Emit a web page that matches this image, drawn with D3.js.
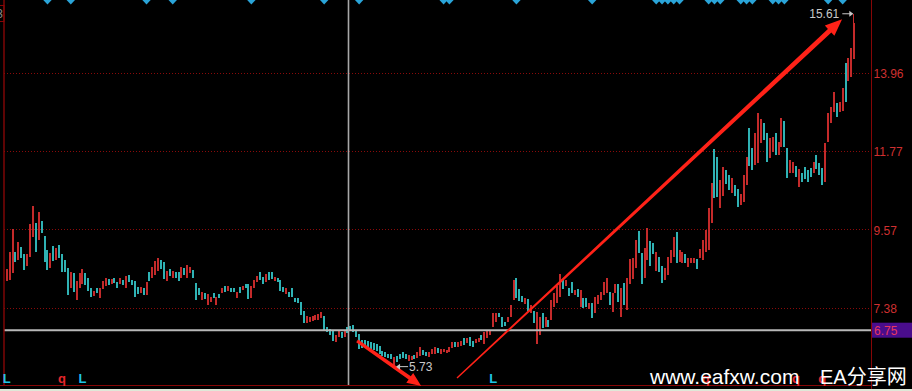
<!DOCTYPE html>
<html><head><meta charset="utf-8">
<script src="https://cdn.jsdelivr.net/npm/d3@7"></script>
<style>html,body{margin:0;padding:0;background:#000;overflow:hidden}</style>
</head><body><svg id="c" width="912" height="391"></svg>
<script>
const opens = [8.13,8.16,8.35,8.94,8.71,9.08,8.88,8.55,8.80,9.36,
9.75,9.27,9.80,9.38,8.99,8.49,9.11,8.71,9.13,8.88,
8.71,8.49,7.93,8.35,7.60,7.93,8.04,8.35,8.21,7.93,
7.71,7.93,7.65,7.90,7.99,8.18,8.04,8.21,8.10,8.04,
8.16,7.93,8.29,8.16,8.13,7.96,7.79,7.93,7.74,8.38,
8.21,8.29,8.41,8.71,8.66,8.13,8.46,8.21,8.38,8.38,
8.21,8.49,8.21,8.35,8.43,8.07,7.93,7.60,7.79,7.46,
7.54,7.79,7.46,
7.76,7.78,7.99,7.85,7.94,7.92,7.65,7.97,7.88,8.03,
8.03,7.66,7.92,8.11,8.37,8.24,8.11,8.39,8.39,8.13,
8.22,8.16,7.97,7.76,7.81,7.92,7.66,7.66,7.55,7.29,
6.95,6.99,7.01,7.04,7.04,7.10,7.15,6.85,6.79,6.73,
6.41,6.57,6.71,6.57,6.85,6.87,6.90,6.76,6.64,6.48,
6.48,6.45,6.42,6.39,6.36,6.32,6.17,6.13,6.08,6.08,
5.78,6.03,6.09,6.14,6.08,5.89,5.92,6.06,5.97,6.04,
6.20,6.15,6.01,6.08,6.08,6.25,6.08,6.14,6.11,6.14,
6.25,6.42,6.29,6.32,6.54,6.39,6.57,6.45,6.39,6.43,
6.62,6.36,6.53,6.62,
6.85,6.99,7.23,7.13,6.99,6.99,7.13,7.60,8.22,7.90,
7.71,7.49,7.62,7.23,7.29,6.37,6.62,7.23,6.85,7.04,
7.04,7.41,7.52,7.69,8.16,7.99,7.92,8.11,7.74,7.90,
7.41,7.64,7.64,7.34,7.50,7.23,7.49,7.60,7.74,7.78,
7.83,7.27,7.78,8.04,7.11,8.06,7.32,8.04,8.18,8.48,
9.53,8.90,8.20,8.71,9.25,9.20,8.41,8.79,8.55,8.16,
8.29,8.62,8.79,9.51,8.67,8.64,8.88,8.51,8.62,8.64,
8.73,8.76,8.71,8.94,
8.99,9.75,11.81,11.59,10.17,10.50,11.23,11.09,10.59,10.81,
10.70,10.25,10.33,10.81,12.40,11.84,11.37,11.42,11.98,12.54,
12.26,11.56,11.73,12.26,11.65,11.87,12.62,11.84,11.14,11.14,
11.34,10.75,11.14,11.31,11.23,11.28,11.14,11.65,11.42,11.28,
10.89,12.01,12.54,12.85,13.10,12.85,12.90,14.22,13.74,13.83,
14.33];

const highs = [8.46,8.94,9.58,8.94,9.22,9.08,8.88,8.88,9.72,10.22,
9.75,10.05,9.80,9.38,8.99,8.91,9.11,9.05,9.13,8.88,
8.71,8.49,8.38,8.35,8.13,8.35,8.46,8.35,8.21,7.93,
7.85,7.93,7.93,8.13,8.21,8.18,8.18,8.21,8.10,8.21,
8.16,8.27,8.29,8.16,8.13,7.96,7.96,7.93,8.10,8.38,
8.52,8.69,8.77,8.71,8.66,8.41,8.46,8.41,8.38,8.38,
8.52,8.49,8.57,8.52,8.43,8.07,7.93,7.82,7.79,7.77,
7.68,7.79,7.68,
7.76,7.94,7.99,7.99,7.94,7.92,7.83,7.97,8.00,8.03,
8.03,8.00,8.16,8.28,8.37,8.24,8.31,8.39,8.39,8.24,
8.22,8.16,7.97,7.92,7.81,7.92,7.66,7.66,7.55,7.29,
7.16,7.13,7.14,7.18,7.20,7.25,7.15,6.85,6.79,6.73,
6.62,6.73,6.71,6.73,6.85,6.87,6.90,6.76,6.64,6.48,
6.48,6.45,6.42,6.39,6.36,6.32,6.17,6.13,6.08,6.08,
6.01,6.03,6.09,6.14,6.08,6.06,6.04,6.06,6.14,6.27,
6.20,6.15,6.14,6.22,6.27,6.25,6.23,6.23,6.20,6.29,
6.42,6.42,6.43,6.45,6.54,6.54,6.57,6.45,6.51,6.54,
6.62,6.71,6.73,6.76,
7.24,7.23,7.23,7.13,6.99,7.13,7.46,8.16,8.22,7.90,
7.71,7.64,7.62,7.46,7.29,7.27,7.11,7.23,7.13,7.04,
7.60,7.78,7.99,8.32,8.16,8.16,7.92,8.11,7.88,7.90,
7.88,7.64,7.64,7.50,7.50,7.69,7.74,7.83,8.11,8.20,
7.83,7.78,8.04,8.04,7.92,8.06,8.20,8.73,8.76,9.27,
9.53,8.90,9.06,9.60,9.25,9.20,8.94,8.79,8.55,8.48,
8.79,8.99,9.37,9.51,8.99,8.94,8.88,8.76,8.76,8.76,
8.73,9.01,9.27,9.55,
10.16,10.87,11.81,11.59,10.95,11.31,11.23,11.09,11.00,10.81,
10.70,10.56,11.09,11.59,12.40,11.84,12.26,12.82,12.65,12.54,
12.26,12.12,12.15,12.26,12.01,12.68,12.62,11.84,11.51,11.45,
11.34,11.26,11.14,11.31,11.23,11.28,11.45,11.65,11.42,11.28,
11.98,12.82,12.99,13.41,13.10,13.13,13.52,14.22,14.38,14.64,
15.61];

const lows = [8.13,8.16,8.35,8.66,8.71,8.77,8.43,8.55,8.80,9.36,
8.94,9.27,9.47,8.66,8.43,8.49,8.69,8.71,8.77,8.38,
8.38,7.74,7.93,7.82,7.60,7.93,8.04,8.02,7.85,7.68,
7.71,7.79,7.65,7.90,7.99,8.02,8.04,8.07,7.93,8.04,
8.02,7.93,8.10,8.02,7.68,7.77,7.79,7.74,7.74,8.13,
8.21,8.29,8.41,8.46,8.18,8.13,8.27,8.21,8.21,8.13,
8.21,8.29,8.21,8.35,8.21,7.60,7.74,7.60,7.63,7.46,
7.54,7.65,7.46,
7.65,7.78,7.83,7.85,7.81,7.81,7.65,7.78,7.88,7.92,
7.63,7.66,7.92,8.11,8.16,8.03,8.11,8.16,8.18,8.13,
8.11,7.85,7.81,7.76,7.69,7.69,7.53,7.50,7.18,6.95,
6.95,6.99,7.01,7.04,7.04,7.10,6.73,6.70,6.62,6.45,
6.41,6.57,6.54,6.57,6.67,6.73,6.69,6.57,6.23,6.25,
6.29,6.25,6.23,6.20,6.17,6.08,6.04,6.01,5.97,5.95,
5.73,5.87,5.95,5.97,5.95,5.89,5.92,5.95,5.97,6.04,
6.06,6.04,6.01,6.08,6.08,6.11,6.08,6.14,6.11,6.14,
6.25,6.29,6.29,6.32,6.34,6.39,6.32,6.27,6.39,6.43,
6.48,6.36,6.53,6.62,
6.85,6.99,7.11,6.85,6.88,6.99,7.13,7.60,7.64,7.58,
7.55,7.49,7.30,7.23,6.95,6.37,6.62,6.81,6.85,6.83,
7.04,7.41,7.52,7.69,7.90,7.99,7.71,7.80,7.74,7.69,
7.41,7.36,7.39,7.34,7.09,7.23,7.49,7.60,7.74,7.78,
7.46,7.27,7.78,7.55,7.11,7.46,7.32,8.04,8.18,8.48,
8.90,8.04,8.20,8.71,8.55,8.88,8.41,8.39,8.06,8.16,
8.29,8.62,8.79,8.64,8.67,8.64,8.62,8.51,8.62,8.64,
8.46,8.76,8.71,8.94,
8.99,9.75,10.45,10.47,10.17,10.50,10.84,10.67,10.59,10.50,
10.19,10.25,10.33,10.81,11.34,11.23,11.37,11.42,11.98,12.07,
11.45,11.56,11.73,11.65,11.65,11.87,11.87,11.00,11.14,11.14,
11.03,10.75,10.89,10.98,10.89,11.03,11.14,11.26,11.09,10.81,
10.89,12.01,12.54,12.85,12.71,12.85,12.90,13.13,13.74,13.83,
14.33];

const closes = [8.46,8.94,9.58,8.66,9.22,8.77,8.43,8.88,9.72,10.22,
8.94,10.05,9.47,8.66,8.43,8.91,8.69,9.05,8.77,8.38,
8.38,7.74,8.38,7.82,8.13,8.35,8.46,8.02,7.85,7.68,
7.85,7.79,7.93,8.13,8.21,8.02,8.18,8.07,7.93,8.21,
8.02,8.27,8.10,8.02,7.68,7.77,7.96,7.74,8.10,8.13,
8.52,8.69,8.77,8.46,8.18,8.41,8.27,8.41,8.21,8.13,
8.52,8.29,8.57,8.52,8.21,7.60,7.74,7.82,7.63,7.77,
7.68,7.65,7.68,
7.65,7.94,7.83,7.99,7.81,7.81,7.83,7.78,8.00,7.92,
7.63,8.00,8.16,8.28,8.16,8.03,8.31,8.16,8.18,8.24,
8.11,7.85,7.81,7.92,7.69,7.69,7.53,7.50,7.18,6.95,
7.16,7.13,7.14,7.18,7.20,7.25,6.73,6.70,6.62,6.45,
6.62,6.73,6.54,6.73,6.67,6.73,6.69,6.57,6.23,6.25,
6.29,6.25,6.23,6.20,6.17,6.08,6.04,6.01,5.97,5.95,
6.01,5.87,5.95,5.97,5.95,6.06,6.04,5.95,6.14,6.27,
6.06,6.04,6.14,6.22,6.27,6.11,6.23,6.23,6.20,6.29,
6.42,6.29,6.43,6.45,6.34,6.54,6.32,6.27,6.51,6.54,
6.48,6.71,6.73,6.76,
7.24,7.23,7.11,6.85,6.88,7.13,7.46,8.16,7.64,7.58,
7.55,7.64,7.30,7.46,6.95,7.27,7.11,6.81,7.13,6.83,
7.60,7.78,7.99,8.32,7.90,8.16,7.71,7.80,7.88,7.69,
7.88,7.36,7.39,7.50,7.09,7.69,7.74,7.83,8.11,8.20,
7.46,7.78,8.04,7.55,7.92,7.46,8.20,8.73,8.76,9.27,
8.90,8.04,9.06,9.60,8.55,8.88,8.94,8.39,8.06,8.48,
8.79,8.99,9.37,8.64,8.99,8.94,8.62,8.76,8.76,8.76,
8.46,9.01,9.27,9.55,
10.16,10.87,10.45,10.47,10.95,11.31,10.84,10.67,11.00,10.50,
10.19,10.56,11.09,11.59,11.34,11.23,12.26,12.82,12.65,12.07,
11.45,12.12,12.15,11.65,12.01,12.68,11.87,11.00,11.51,11.45,
11.03,11.26,10.89,10.98,10.89,11.03,11.45,11.26,11.09,10.81,
11.98,12.82,12.99,13.41,12.71,13.13,13.52,13.13,14.38,14.64,
15.35];

const priceTicks = [7.38, 9.57, 11.77, 13.96, 16.15];
const lastPrice = 6.75;
const maxPriceLabel = 15.61;
const minPriceLabel = 5.73;
const crossIndex = 118;
const signalIdx = [14,22,48,57,84,109,121,150,152,175,201,223,225,227,229,231,241,243,245,252,254,256,263,265,267,282,287];
const markerIdx = [0,19,26,167,240,271,280];
const markerText = ["L","q","L","L","q","q","q"];
const arrowFrom = [[154.6,5.41],[120.3,6.45]];
const arrowTo = [[286.8,15.46],[142.3,5.19]];
const watermarkText = ["www.eafxw.com","EA分享网"];

const W = 912, H = 391;
const FONT = "'Liberation Sans', Arial, sans-serif";
const svg = d3.select("#c");
svg.append("rect").attr("width", W).attr("height", H).attr("fill", "#000");

const N = opens.length;
const x = d3.scaleLinear().domain([0, N - 1]).range([6.7, 854.3]);
const y = d3.scaleLinear().domain([7.38, 13.96]).range([307.7, 72.7]);
const leftX = 4, rightX = 871.5, bottomY = 385.5;
const AX = "#860606";

// gridlines
svg.append("g").selectAll("line").data(priceTicks).join("line")
  .attr("x1", leftX).attr("x2", rightX)
  .attr("y1", d => Math.round(y(d)) + 0.5).attr("y2", d => Math.round(y(d)) + 0.5)
  .attr("stroke", "#8a0a0a").attr("stroke-dasharray", "1,2").attr("stroke-width", 1);

// candles
const cg = svg.append("g").attr("shape-rendering", "crispEdges");
const idx = d3.range(N);
const col = i => closes[i] >= opens[i] ? "#c42a2a" : "#2fb2b4";
cg.selectAll("line").data(idx).join("line")
  .attr("x1", i => Math.round(x(i)) - 0.5).attr("x2", i => Math.round(x(i)) - 0.5)
  .attr("y1", i => y(highs[i])).attr("y2", i => y(lows[i]))
  .attr("stroke", col).attr("stroke-width", 1);
cg.selectAll("rect").data(idx).join("rect")
  .attr("x", i => Math.round(x(i)) - 1).attr("width", 2)
  .attr("y", i => y(Math.max(opens[i], closes[i])))
  .attr("height", i => Math.max(1, Math.abs(y(opens[i]) - y(closes[i]))))
  .attr("fill", col);

// last price line
svg.append("line").attr("x1", leftX).attr("x2", rightX)
  .attr("y1", y(lastPrice)).attr("y2", y(lastPrice))
  .attr("stroke", "#b8b8b8").attr("stroke-width", 2);

// crosshair
svg.append("line").attr("x1", Math.round(x(crossIndex)) - 1.5).attr("x2", Math.round(x(crossIndex)) - 1.5)
  .attr("y1", 0).attr("y2", bottomY).attr("stroke", "#a8a8a8").attr("stroke-width", 1.6);

// frame lines
svg.append("line").attr("x1", leftX).attr("x2", leftX).attr("y1", 0).attr("y2", bottomY).attr("stroke", AX).attr("stroke-width", 1.4);
svg.append("line").attr("x1", rightX).attr("x2", rightX).attr("y1", 0).attr("y2", H).attr("stroke", AX).attr("stroke-width", 1);
svg.append("line").attr("x1", 0).attr("x2", rightX).attr("y1", bottomY).attr("y2", bottomY).attr("stroke", AX).attr("stroke-width", 1.2);
svg.append("rect").attr("x", -20).attr("y", 5.5).attr("width", 24).attr("height", 16).attr("fill", "none").attr("stroke", AX);
svg.append("text").attr("x", 3).attr("y", 18).attr("text-anchor", "end").attr("fill", "#888").attr("font-family", FONT).attr("font-size", 12).text("13");

// right axis labels
const axis = d3.axisRight(y).tickValues(priceTicks).tickSize(0).tickPadding(2).tickFormat(d3.format(".2f"));
const ag = svg.append("g").attr("transform", `translate(${rightX},0)`).call(axis);
ag.select(".domain").remove();
ag.selectAll("text").attr("fill", "#cf3030").attr("font-family", FONT).attr("font-size", 12).attr("dy", "0.42em");

// last price box
svg.append("rect").attr("x", rightX + 0.5).attr("y", y(lastPrice) - 7.5).attr("width", 41).attr("height", 15).attr("fill", "#4a0d8c");
svg.append("text").attr("x", rightX + 2.5).attr("y", y(lastPrice) + 5).attr("fill", "#e8385e")
  .attr("font-family", FONT).attr("font-size", 12).text(lastPrice.toFixed(2));

// signal diamonds at top
svg.append("g").selectAll("path").data(signalIdx).join("path")
  .attr("d", i => { const cx = x(i); return `M${cx-4.2},0L${cx},4.6L${cx+4.2},0L${cx},-4.6Z`; })
  .attr("fill", "#2aa4d8");

// bottom markers
svg.append("g").selectAll("text").data(markerIdx).join("text")
  .attr("x", i => x(i)).attr("y", 383).attr("text-anchor", "middle")
  .attr("font-family", FONT).attr("font-weight", "bold").attr("font-size", 13)
  .attr("fill", (d, k) => markerText[k] === "L" ? "#1ec4e6" : "#e6262a")
  .text((d, k) => markerText[k]);

// red annotation arrows
function arrowPath(x0, y0, x1, y1, w0, w1, hl, hw) {
  const dx = x1 - x0, dy = y1 - y0, len = Math.hypot(dx, dy);
  const ux = dx / len, uy = dy / len, nx = -uy, ny = ux;
  const bx = x1 - ux * hl, by = y1 - uy * hl;
  const p = [[x0 + nx*w0/2, y0 + ny*w0/2], [bx + nx*w1/2, by + ny*w1/2], [bx + nx*hw/2, by + ny*hw/2],
    [x1, y1], [bx - nx*hw/2, by - ny*hw/2], [bx - nx*w1/2, by - ny*w1/2], [x0 - nx*w0/2, y0 - ny*w0/2]];
  return "M" + p.map(q => q.join(",")).join("L") + "Z";
}
const aw = [[1.4, 5, 17, 14], [3.2, 3.8, 14, 12]];
svg.append("g").selectAll("path").data([0, 1]).join("path")
  .attr("d", k => arrowPath(x(arrowFrom[k][0]), y(arrowFrom[k][1]), x(arrowTo[k][0]), y(arrowTo[k][1]), ...aw[k]))
  .attr("fill", "#ff2218");

// max / min labels
const mx = x(N - 1), my = y(maxPriceLabel);
svg.append("text").attr("x", mx - 15).attr("y", my + 4.5).attr("text-anchor", "end")
  .attr("fill", "#c8c8c8").attr("font-family", FONT).attr("font-size", 12).text(maxPriceLabel.toFixed(2));
svg.append("line").attr("x1", mx - 12).attr("x2", mx - 2).attr("y1", my).attr("y2", my).attr("stroke", "#c8c8c8");
svg.append("path").attr("d", `M${mx-1},${my}L${mx-5},${my-3}L${mx-5},${my+3}Z`).attr("fill", "#c8c8c8");

const lowI = lows.indexOf(d3.min(lows));
const lx = x(lowI), ly = y(minPriceLabel);
svg.append("line").attr("x1", lx + 3).attr("x2", lx + 14).attr("y1", ly).attr("y2", ly).attr("stroke", "#c8c8c8");
svg.append("path").attr("d", `M${lx+2},${ly}L${lx+6},${ly-3}L${lx+6},${ly+3}Z`).attr("fill", "#c8c8c8");
svg.append("text").attr("x", lx + 15).attr("y", ly + 4.5)
  .attr("fill", "#c8c8c8").attr("font-family", FONT).attr("font-size", 12).text(minPriceLabel.toFixed(2));

// watermark
svg.append("text").attr("x", 650).attr("y", 384).attr("fill", "#fff").attr("font-family", FONT).attr("font-size", 21).text(watermarkText[0]);
svg.append("text").attr("x", 820).attr("y", 384).attr("fill", "#fff").attr("font-family", "'Liberation Sans','Noto Sans CJK SC',sans-serif").attr("font-size", 20).text(watermarkText[1]);

// bottom strip
svg.append("rect").attr("x", 0).attr("y", 389).attr("width", W).attr("height", 2).attr("fill", "#dfe8d8");
</script>
</body></html>
